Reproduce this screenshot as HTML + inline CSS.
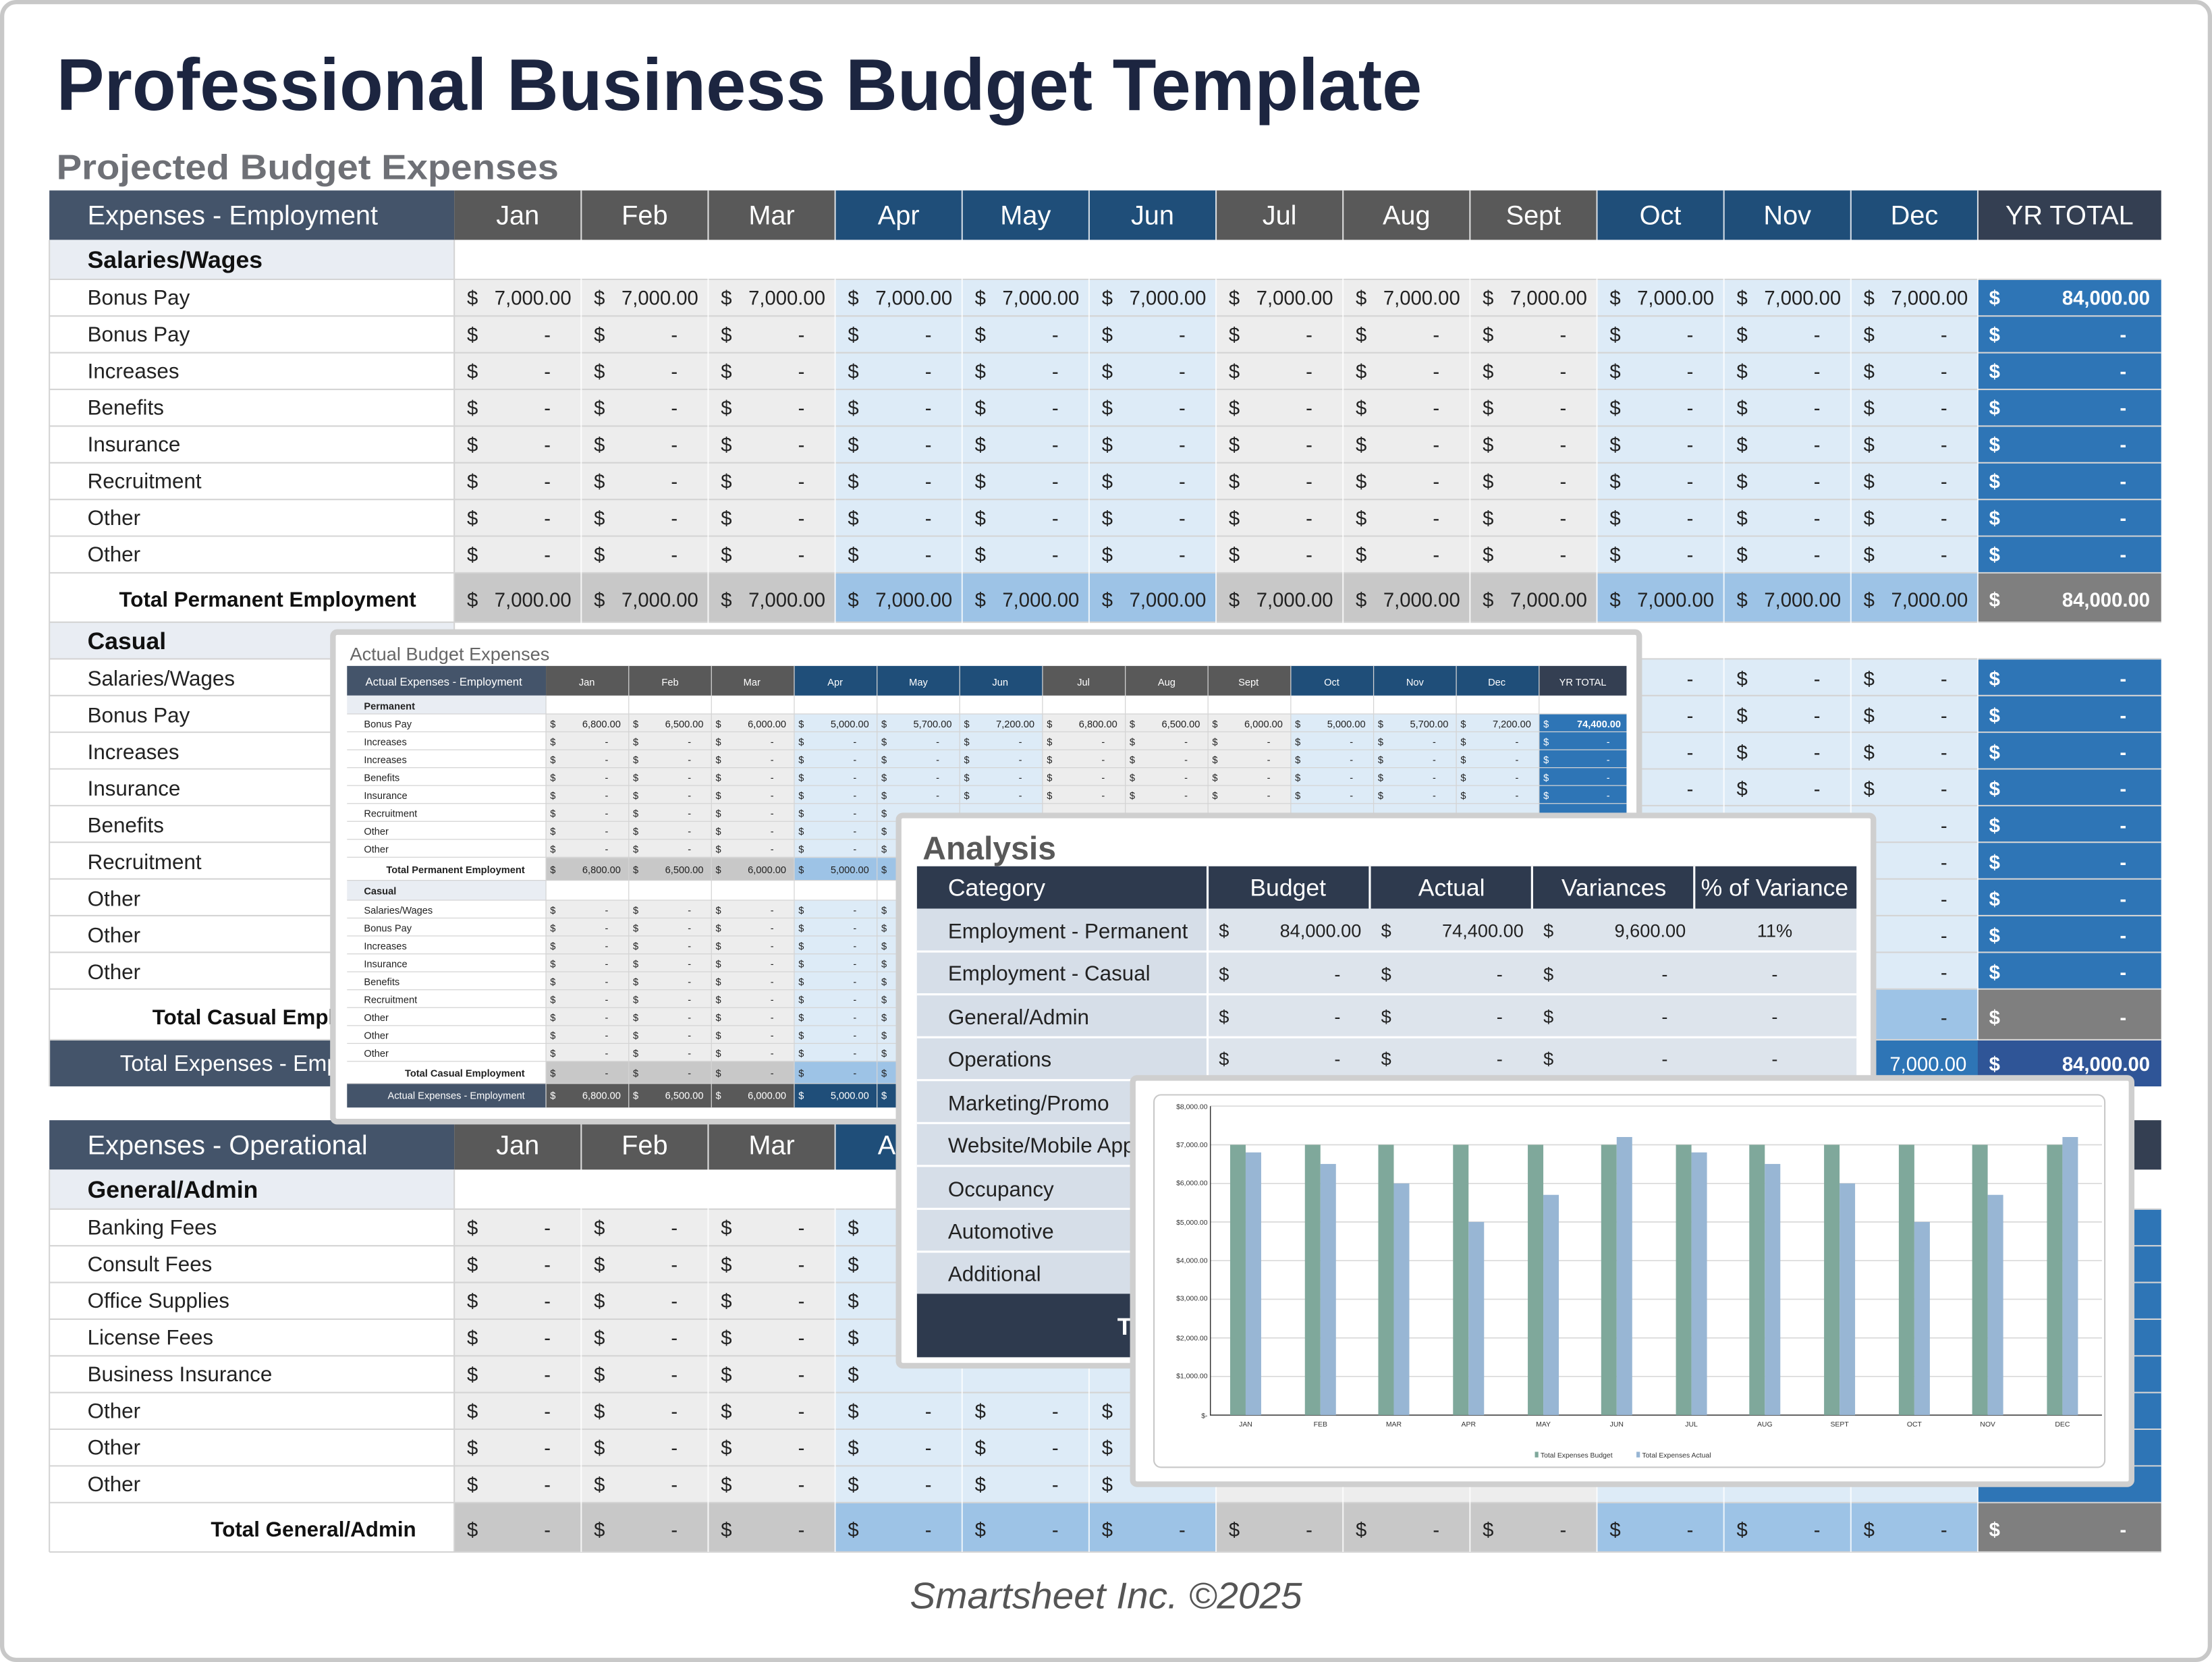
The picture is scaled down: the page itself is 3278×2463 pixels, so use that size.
<!DOCTYPE html>
<html><head><meta charset="utf-8"><style>
html,body{margin:0;padding:0;background:#fff}
svg{display:block}
text{font-family:"Liberation Sans",sans-serif}
.l{font-size:15px;fill:#222}
.b{font-size:17px;font-weight:bold;fill:#111}
.d{font-size:14px;fill:#222}
.w{font-size:14px;fill:#fff;font-weight:bold}
.h{font-size:19px;fill:#fff}
.s{font-size:7px;fill:#222}
.sw{font-size:7px;fill:#fff}
.a{font-size:15px;fill:#222}
.c{font-size:5px;fill:#333}
</style></head><body>
<svg width="3278" height="2463" viewBox="0 0 1568 1178" preserveAspectRatio="none" xmlns="http://www.w3.org/2000/svg">
<rect x="1.5" y="1.5" width="1565" height="1175" rx="10" fill="#fff" stroke="#c8c8c8" stroke-width="3"/>
<text x="40" y="78" textLength="968" lengthAdjust="spacingAndGlyphs" style="font-size:52px;font-weight:bold;fill:#1c2540">Professional Business Budget Template</text>
<text x="40" y="127" textLength="356" lengthAdjust="spacingAndGlyphs" style="font-size:25px;font-weight:bold;fill:#6e7076">Projected Budget Expenses</text>

<g>
<rect x="35" y="135" width="287" height="35" fill="#44546a"/>
<rect x="322" y="135" width="270" height="35" fill="#595959"/>
<rect x="592" y="135" width="270" height="35" fill="#1f4e79"/>
<rect x="862" y="135" width="270" height="35" fill="#595959"/>
<rect x="1132" y="135" width="270" height="35" fill="#1f4e79"/>
<rect x="1402" y="135" width="130" height="35" fill="#343f52"/>
<text class="h" x="62" y="159">Expenses - Employment</text>
<text class="h" text-anchor="middle" y="159"><tspan x="367">Jan</tspan><tspan x="457">Feb</tspan><tspan x="547">Mar</tspan><tspan x="637">Apr</tspan><tspan x="727">May</tspan><tspan x="817">Jun</tspan><tspan x="907">Jul</tspan><tspan x="997">Aug</tspan><tspan x="1087">Sept</tspan><tspan x="1177">Oct</tspan><tspan x="1267">Nov</tspan><tspan x="1357">Dec</tspan><tspan x="1467">YR TOTAL</tspan></text>
</g>
<rect x="35" y="170" width="287" height="28" fill="#e9edf3"/>
<rect x="322" y="198" width="270" height="208" fill="#ededed"/>
<rect x="592" y="198" width="270" height="208" fill="#ddebf7"/>
<rect x="862" y="198" width="270" height="208" fill="#ededed"/>
<rect x="1132" y="198" width="270" height="208" fill="#ddebf7"/>
<rect x="1402" y="198" width="130" height="208" fill="#2e75b6"/>
<rect x="322" y="406" width="270" height="35" fill="#c8c8c8"/>
<rect x="592" y="406" width="270" height="35" fill="#9dc3e6"/>
<rect x="862" y="406" width="270" height="35" fill="#c8c8c8"/>
<rect x="1132" y="406" width="270" height="35" fill="#9dc3e6"/>
<rect x="1402" y="406" width="130" height="35" fill="#7f7f7f"/>
<rect x="35" y="441" width="287" height="26" fill="#e9edf3"/>
<rect x="322" y="467" width="270" height="234" fill="#ededed"/>
<rect x="592" y="467" width="270" height="234" fill="#ddebf7"/>
<rect x="862" y="467" width="270" height="234" fill="#ededed"/>
<rect x="1132" y="467" width="270" height="234" fill="#ddebf7"/>
<rect x="1402" y="467" width="130" height="234" fill="#2e75b6"/>
<rect x="322" y="701" width="270" height="36" fill="#c8c8c8"/>
<rect x="592" y="701" width="270" height="36" fill="#9dc3e6"/>
<rect x="862" y="701" width="270" height="36" fill="#c8c8c8"/>
<rect x="1132" y="701" width="270" height="36" fill="#9dc3e6"/>
<rect x="1402" y="701" width="130" height="36" fill="#7f7f7f"/>
<rect x="35" y="737" width="1497" height="33" fill="#44546a"/>
<rect x="1132" y="737" width="270" height="33" fill="#2e75b6"/>
<rect x="1402" y="737" width="130" height="33" fill="#2f5597"/>
<rect x="35" y="794" width="287" height="35" fill="#44546a"/>
<rect x="322" y="794" width="270" height="35" fill="#595959"/>
<rect x="592" y="794" width="270" height="35" fill="#1f4e79"/>
<rect x="862" y="794" width="270" height="35" fill="#595959"/>
<rect x="1132" y="794" width="270" height="35" fill="#1f4e79"/>
<rect x="1402" y="794" width="130" height="35" fill="#343f52"/>
<text class="h" x="62" y="818">Expenses - Operational</text>
<text class="h" text-anchor="middle" y="818"><tspan x="367">Jan</tspan><tspan x="457">Feb</tspan><tspan x="547">Mar</tspan><tspan x="637">Apr</tspan></text>
<rect x="35" y="829" width="287" height="28" fill="#e9edf3"/>
<rect x="322" y="857" width="270" height="208" fill="#ededed"/>
<rect x="592" y="857" width="270" height="208" fill="#ddebf7"/>
<rect x="862" y="857" width="270" height="208" fill="#ededed"/>
<rect x="1132" y="857" width="270" height="208" fill="#ddebf7"/>
<rect x="1402" y="857" width="130" height="208" fill="#2e75b6"/>
<rect x="322" y="1065" width="270" height="35" fill="#c8c8c8"/>
<rect x="592" y="1065" width="270" height="35" fill="#9dc3e6"/>
<rect x="862" y="1065" width="270" height="35" fill="#c8c8c8"/>
<rect x="1132" y="1065" width="270" height="35" fill="#9dc3e6"/>
<rect x="1402" y="1065" width="130" height="35" fill="#7f7f7f"/>

<g stroke="#d4d4d4" stroke-width="1">
<path d="M35 198H1532M35 224H1532M35 250H1532M35 276H1532M35 302H1532M35 328H1532M35 354H1532M35 380H1532M35 406H1532M35 441H1532M35 467H1532M35 493H1532M35 519H1532M35 545H1532M35 571H1532M35 597H1532M35 623H1532M35 649H1532M35 675H1532M35 701H1532M35 737H1532"/>
<path d="M35 857H1532M35 883H1532M35 909H1532M35 935H1532M35 961H1532M35 987H1532M35 1013H1532M35 1039H1532M35 1065H1532M35 1100H1532"/>
<path d="M35 170V441M322 170V737M35 441V770M35 829V1100M322 829V1100"/>
</g>
<g stroke="#ffffff" stroke-width="1" opacity="0.8">
<path d="M412 135V737M502 135V737M592 135V737M682 135V737M772 135V737M862 135V737M952 135V737M1042 135V737M1132 135V737M1222 135V737M1312 135V737M1402 135V737"/>
<path d="M412 794V1100M502 794V1100M592 794V1100M682 794V1100M772 794V1100M862 794V1100M952 794V1100M1042 794V1100M1132 794V1100M1222 794V1100M1312 794V1100M1402 794V1100"/>
</g>

<text class="b" x="62" y="190">Salaries/Wages</text>
<text class="l" x="62" y="216">Bonus Pay</text>
<text class="l" x="62" y="242">Bonus Pay</text>
<text class="l" x="62" y="268">Increases</text>
<text class="l" x="62" y="294">Benefits</text>
<text class="l" x="62" y="320">Insurance</text>
<text class="l" x="62" y="346">Recruitment</text>
<text class="l" x="62" y="372">Other</text>
<text class="l" x="62" y="398">Other</text>
<text x="295" y="430" text-anchor="end" style="font-size:15px;font-weight:bold;fill:#111">Total Permanent Employment</text>

<text class="d" x="331 421 511 601 691 781 871 961 1051 1141 1231 1321" y="216">$$$$$$$$$$$$</text>
<text class="d" text-anchor="end" y="216"><tspan x="405">7,000.00</tspan><tspan x="495">7,000.00</tspan><tspan x="585">7,000.00</tspan><tspan x="675">7,000.00</tspan><tspan x="765">7,000.00</tspan><tspan x="855">7,000.00</tspan><tspan x="945">7,000.00</tspan><tspan x="1035">7,000.00</tspan><tspan x="1125">7,000.00</tspan><tspan x="1215">7,000.00</tspan><tspan x="1305">7,000.00</tspan><tspan x="1395">7,000.00</tspan></text>
<text class="w" x="1410" y="216">$</text><text class="w" x="1524" y="216" text-anchor="end">84,000.00</text>

<g>
<text class="d" x="331 421 511 601 691 781 871 961 1051 1141 1231 1321" y="242">$$$$$$$$$$$$</text>
<text class="d" text-anchor="middle" x="388 478 568 658 748 838 928 1018 1108 1198 1288 1378" y="242">------------</text>
<text class="d" x="331 421 511 601 691 781 871 961 1051 1141 1231 1321" y="268">$$$$$$$$$$$$</text>
<text class="d" text-anchor="middle" x="388 478 568 658 748 838 928 1018 1108 1198 1288 1378" y="268">------------</text>
<text class="d" x="331 421 511 601 691 781 871 961 1051 1141 1231 1321" y="294">$$$$$$$$$$$$</text>
<text class="d" text-anchor="middle" x="388 478 568 658 748 838 928 1018 1108 1198 1288 1378" y="294">------------</text>
<text class="d" x="331 421 511 601 691 781 871 961 1051 1141 1231 1321" y="320">$$$$$$$$$$$$</text>
<text class="d" text-anchor="middle" x="388 478 568 658 748 838 928 1018 1108 1198 1288 1378" y="320">------------</text>
<text class="d" x="331 421 511 601 691 781 871 961 1051 1141 1231 1321" y="346">$$$$$$$$$$$$</text>
<text class="d" text-anchor="middle" x="388 478 568 658 748 838 928 1018 1108 1198 1288 1378" y="346">------------</text>
<text class="d" x="331 421 511 601 691 781 871 961 1051 1141 1231 1321" y="372">$$$$$$$$$$$$</text>
<text class="d" text-anchor="middle" x="388 478 568 658 748 838 928 1018 1108 1198 1288 1378" y="372">------------</text>
<text class="d" x="331 421 511 601 691 781 871 961 1051 1141 1231 1321" y="398">$$$$$$$$$$$$</text>
<text class="d" text-anchor="middle" x="388 478 568 658 748 838 928 1018 1108 1198 1288 1378" y="398">------------</text>
</g>
<text class="w" x="1410 1410 1410 1410 1410 1410 1410" y="242 268 294 320 346 372 398">$$$$$$$</text>
<text class="w" text-anchor="middle" x="1505 1505 1505 1505 1505 1505 1505" y="242 268 294 320 346 372 398">-------</text>

<text class="d" x="331 421 511 601 691 781 871 961 1051 1141 1231 1321" y="430">$$$$$$$$$$$$</text>
<text class="d" text-anchor="end" y="430"><tspan x="405">7,000.00</tspan><tspan x="495">7,000.00</tspan><tspan x="585">7,000.00</tspan><tspan x="675">7,000.00</tspan><tspan x="765">7,000.00</tspan><tspan x="855">7,000.00</tspan><tspan x="945">7,000.00</tspan><tspan x="1035">7,000.00</tspan><tspan x="1125">7,000.00</tspan><tspan x="1215">7,000.00</tspan><tspan x="1305">7,000.00</tspan><tspan x="1395">7,000.00</tspan></text>
<text class="w" x="1410" y="430">$</text><text class="w" x="1524" y="430" text-anchor="end">84,000.00</text>

<text class="b" x="62" y="460">Casual</text>
<text class="l" x="62" y="486">Salaries/Wages</text>
<text class="l" x="62" y="512">Bonus Pay</text>
<text class="l" x="62" y="538">Increases</text>
<text class="l" x="62" y="564">Insurance</text>
<text class="l" x="62" y="590">Benefits</text>
<text class="l" x="62" y="616">Recruitment</text>
<text class="l" x="62" y="642">Other</text>
<text class="l" x="62" y="668">Other</text>
<text class="l" x="62" y="694">Other</text>
<text x="108" y="726" style="font-size:15px;font-weight:bold;fill:#111">Total Casual Employment</text>
<text x="85" y="759" style="font-size:16px;fill:#fff">Total Expenses - Employment</text>
<text class="d" x="1141 1231 1321 1141 1231 1321 1141 1231 1321 1141 1231 1321" y="486 486 486 512 512 512 538 538 538 564 564 564">$$$$$$$$$$$$</text>
<text class="d" text-anchor="middle" x="1198 1288 1378 1198 1288 1378 1198 1288 1378 1198 1288 1378 1378 1378 1378 1378 1378 1378" y="486 486 486 512 512 512 538 538 538 564 564 564 590 616 642 668 694 726">------------------</text>
<text class="w" x="1410 1410 1410 1410 1410 1410 1410 1410 1410 1410" y="486 512 538 564 590 616 642 668 694 726">$$$$$$$$$$</text>
<text class="w" text-anchor="middle" x="1505 1505 1505 1505 1505 1505 1505 1505 1505 1505" y="486 512 538 564 590 616 642 668 694 726">----------</text>
<text class="w" x="1394" y="759" text-anchor="end" style="font-weight:normal">7,000.00</text>
<text class="w" x="1410" y="759">$</text><text class="w" x="1524" y="759" text-anchor="end">84,000.00</text>

<text class="b" x="62" y="849">General/Admin</text>
<text class="l" x="62" y="875">Banking Fees</text>
<text class="l" x="62" y="901">Consult Fees</text>
<text class="l" x="62" y="927">Office Supplies</text>
<text class="l" x="62" y="953">License Fees</text>
<text class="l" x="62" y="979">Business Insurance</text>
<text class="l" x="62" y="1005">Other</text>
<text class="l" x="62" y="1031">Other</text>
<text class="l" x="62" y="1057">Other</text>
<text x="295" y="1089" text-anchor="end" style="font-size:15px;font-weight:bold;fill:#111">Total General/Admin</text>
<text class="d" x="331 421 511 601 331 421 511 601 331 421 511 601 331 421 511 601 331 421 511 601" y="875 875 875 875 901 901 901 901 927 927 927 927 953 953 953 953 979 979 979 979">$$$$$$$$$$$$$$$$$$$$</text>
<text class="d" text-anchor="middle" x="388 478 568 388 478 568 388 478 568 388 478 568 388 478 568" y="875 875 875 901 901 901 927 927 927 953 953 953 979 979 979">---------------</text>
<text class="d" x="331 421 511 601 691 781 331 421 511 601 691 781 331 421 511 601 691 781" y="1005 1005 1005 1005 1005 1005 1031 1031 1031 1031 1031 1031 1057 1057 1057 1057 1057 1057">$$$$$$$$$$$$$$$$$$</text>
<text class="d" text-anchor="middle" x="388 478 568 658 748 388 478 568 658 748 388 478 568 658 748" y="1005 1005 1005 1005 1005 1031 1031 1031 1031 1031 1057 1057 1057 1057 1057">---------------</text>
<text class="d" x="331 421 511 601 691 781 871 961 1051 1141 1231 1321" y="1089">$$$$$$$$$$$$</text>
<text class="d" text-anchor="middle" x="388 478 568 658 748 838 928 1018 1108 1198 1288 1378" y="1089">------------</text>
<text class="w" x="1410" y="1089">$</text><text class="w" x="1505" y="1089" text-anchor="middle">-</text>

<text x="784" y="1140" text-anchor="middle" textLength="278" lengthAdjust="spacingAndGlyphs" style="font-size:26px;font-style:italic;fill:#555">Smartsheet Inc. ©2025</text>

<rect x="236" y="448" width="926" height="347" fill="#fff" stroke="#cfcfcf" stroke-width="4" rx="3"/>
<text x="248" y="468" style="font-size:13px;fill:#666">Actual Budget Expenses</text>
<rect x="246" y="472" width="141" height="21" fill="#44546a"/>
<rect x="387" y="472" width="176" height="21" fill="#595959"/>
<rect x="563" y="472" width="176" height="21" fill="#1f4e79"/>
<rect x="739" y="472" width="176" height="21" fill="#595959"/>
<rect x="915" y="472" width="176" height="21" fill="#1f4e79"/>
<rect x="1091" y="472" width="62" height="21" fill="#343f52"/>
<text class="sw" x="259" y="486" style="font-size:8px">Actual Expenses - Employment</text>
<text class="sw" text-anchor="middle" y="486"><tspan x="416">Jan</tspan><tspan x="475">Feb</tspan><tspan x="533">Mar</tspan><tspan x="592">Apr</tspan><tspan x="651">May</tspan><tspan x="709">Jun</tspan><tspan x="768">Jul</tspan><tspan x="827">Aug</tspan><tspan x="885">Sept</tspan><tspan x="944">Oct</tspan><tspan x="1003">Nov</tspan><tspan x="1061">Dec</tspan><tspan x="1122">YR TOTAL</tspan></text>
<rect x="246" y="493" width="141" height="13" fill="#e9edf3"/>
<rect x="387" y="506" width="176" height="102" fill="#ededed"/>
<rect x="563" y="506" width="176" height="102" fill="#ddebf7"/>
<rect x="739" y="506" width="176" height="102" fill="#ededed"/>
<rect x="915" y="506" width="176" height="102" fill="#ddebf7"/>
<rect x="1091" y="506" width="62" height="102" fill="#2e75b6"/>
<rect x="387" y="608" width="176" height="16" fill="#c8c8c8"/>
<rect x="563" y="608" width="176" height="16" fill="#9dc3e6"/>
<rect x="246" y="624" width="141" height="14" fill="#e9edf3"/>
<rect x="387" y="638" width="176" height="114" fill="#ededed"/>
<rect x="563" y="638" width="176" height="114" fill="#ddebf7"/>
<rect x="387" y="752" width="176" height="16" fill="#c8c8c8"/>
<rect x="563" y="752" width="176" height="16" fill="#9dc3e6"/>
<rect x="246" y="768" width="141" height="17" fill="#44546a"/>
<rect x="387" y="768" width="176" height="17" fill="#595959"/>
<rect x="563" y="768" width="176" height="17" fill="#1f4e79"/>
<g stroke="#d4d4d4" stroke-width="0.6">
<path d="M246 506H1153M246 518.7H1153M246 531.4H1153M246 544.1H1153M246 556.8H1153M246 569.5H1153M246 582.2H1153M246 594.9H1153M246 607.6H1153M246 624H640M246 638H640M246 650.7H640M246 663.4H640M246 676.1H640M246 688.8H640M246 701.5H640M246 714.2H640M246 726.9H640M246 739.6H640M246 752.3H640M246 768H640"/>
<path d="M387 493V785M445.7 472V785M504.3 472V785M563 472V785M621.7 472V785M680.3 472V608M739 472V608M797.7 472V608M856.3 472V608M915 472V608M973.7 472V608M1032.3 472V608M1091 472V608"/>
</g>
<text class="s" x="258" y="503" style="font-weight:bold">Permanent</text>
<text class="s" x="258" y="515.5">Bonus Pay</text>
<text class="s" x="258" y="528.2">Increases</text>
<text class="s" x="258" y="540.9">Increases</text>
<text class="s" x="258" y="553.6">Benefits</text>
<text class="s" x="258" y="566.3">Insurance</text>
<text class="s" x="258" y="579">Recruitment</text>
<text class="s" x="258" y="591.7">Other</text>
<text class="s" x="258" y="604.4">Other</text>
<text class="s" x="372" y="619" text-anchor="end" style="font-weight:bold">Total Permanent Employment</text>
<text class="s" x="258" y="634" style="font-weight:bold">Casual</text>
<text class="s" x="258" y="647.5">Salaries/Wages</text>
<text class="s" x="258" y="660.2">Bonus Pay</text>
<text class="s" x="258" y="672.9">Increases</text>
<text class="s" x="258" y="685.6">Insurance</text>
<text class="s" x="258" y="698.3">Benefits</text>
<text class="s" x="258" y="711">Recruitment</text>
<text class="s" x="258" y="723.7">Other</text>
<text class="s" x="258" y="736.4">Other</text>
<text class="s" x="258" y="749.1">Other</text>
<text class="s" x="372" y="763" text-anchor="end" style="font-weight:bold">Total Casual Employment</text>
<text class="sw" x="372" y="779" text-anchor="end">Actual Expenses - Employment</text>
<text class="s" x="390 448.7 507.3 566 624.7 683.3 742 800.7 859.3 918 976.7 1035.3" y="515.5">$$$$$$$$$$$$</text>
<text class="s" text-anchor="end" y="515.5"><tspan x="440">6,800.00</tspan><tspan x="498.7">6,500.00</tspan><tspan x="557.3">6,000.00</tspan><tspan x="616">5,000.00</tspan><tspan x="674.7">5,700.00</tspan><tspan x="733.3">7,200.00</tspan><tspan x="792">6,800.00</tspan><tspan x="850.7">6,500.00</tspan><tspan x="909.3">6,000.00</tspan><tspan x="968">5,000.00</tspan><tspan x="1026.7">5,700.00</tspan><tspan x="1085.3">7,200.00</tspan></text>
<text class="sw" x="1094" y="515.5">$</text><text class="sw" x="1149" y="515.5" text-anchor="end" style="font-weight:bold">74,400.00</text>
<text class="s" x="390 448.7 507.3 566 624.7 683.3 742 800.7 859.3 918 976.7 1035.3 390 448.7 507.3 566 624.7 683.3 742 800.7 859.3 918 976.7 1035.3 390 448.7 507.3 566 624.7 683.3 742 800.7 859.3 918 976.7 1035.3 390 448.7 507.3 566 624.7 683.3 742 800.7 859.3 918 976.7 1035.3" y="528.2 528.2 528.2 528.2 528.2 528.2 528.2 528.2 528.2 528.2 528.2 528.2 540.9 540.9 540.9 540.9 540.9 540.9 540.9 540.9 540.9 540.9 540.9 540.9 553.6 553.6 553.6 553.6 553.6 553.6 553.6 553.6 553.6 553.6 553.6 553.6 566.3 566.3 566.3 566.3 566.3 566.3 566.3 566.3 566.3 566.3 566.3 566.3">$$$$$$$$$$$$$$$$$$$$$$$$$$$$$$$$$$$$$$$$$$$$$$$$</text>
<text class="s" text-anchor="middle" x="430 488.7 547.3 606 664.7 723.3 782 840.7 899.3 958 1016.7 1075.3 430 488.7 547.3 606 664.7 723.3 782 840.7 899.3 958 1016.7 1075.3 430 488.7 547.3 606 664.7 723.3 782 840.7 899.3 958 1016.7 1075.3 430 488.7 547.3 606 664.7 723.3 782 840.7 899.3 958 1016.7 1075.3" y="528.2 528.2 528.2 528.2 528.2 528.2 528.2 528.2 528.2 528.2 528.2 528.2 540.9 540.9 540.9 540.9 540.9 540.9 540.9 540.9 540.9 540.9 540.9 540.9 553.6 553.6 553.6 553.6 553.6 553.6 553.6 553.6 553.6 553.6 553.6 553.6 566.3 566.3 566.3 566.3 566.3 566.3 566.3 566.3 566.3 566.3 566.3 566.3">------------------------------------------------</text>
<text class="sw" x="1094 1094 1094 1094" y="528.2 540.9 553.6 566.3">$$$$</text>
<text class="sw" text-anchor="middle" x="1140 1140 1140 1140" y="528.2 540.9 553.6 566.3">----</text>
<text class="s" x="390 448.7 507.3 566 624.7 390 448.7 507.3 566 624.7 390 448.7 507.3 566 624.7" y="579 579 579 579 579 591.7 591.7 591.7 591.7 591.7 604.4 604.4 604.4 604.4 604.4">$$$$$$$$$$$$$$$</text>
<text class="s" text-anchor="middle" x="430 488.7 547.3 606 430 488.7 547.3 606 430 488.7 547.3 606" y="579 579 579 579 591.7 591.7 591.7 591.7 604.4 604.4 604.4 604.4">------------</text>
<text class="s" x="390 448.7 507.3 566 624.7" y="619">$$$$$</text>
<text class="s" text-anchor="end" y="619"><tspan x="440">6,800.00</tspan><tspan x="498.7">6,500.00</tspan><tspan x="557.3">6,000.00</tspan><tspan x="616">5,000.00</tspan></text>
<text class="s" x="390 448.7 507.3 566 624.7 390 448.7 507.3 566 624.7 390 448.7 507.3 566 624.7 390 448.7 507.3 566 624.7 390 448.7 507.3 566 624.7" y="647.5 647.5 647.5 647.5 647.5 660.2 660.2 660.2 660.2 660.2 672.9 672.9 672.9 672.9 672.9 685.6 685.6 685.6 685.6 685.6 698.3 698.3 698.3 698.3 698.3">$$$$$$$$$$$$$$$$$$$$$$$$$</text>
<text class="s" text-anchor="middle" x="430 488.7 547.3 606 430 488.7 547.3 606 430 488.7 547.3 606 430 488.7 547.3 606 430 488.7 547.3 606" y="647.5 647.5 647.5 647.5 660.2 660.2 660.2 660.2 672.9 672.9 672.9 672.9 685.6 685.6 685.6 685.6 698.3 698.3 698.3 698.3">--------------------</text>
<text class="s" x="390 448.7 507.3 566 624.7 390 448.7 507.3 566 624.7 390 448.7 507.3 566 624.7 390 448.7 507.3 566 624.7 390 448.7 507.3 566 624.7" y="711 711 711 711 711 723.7 723.7 723.7 723.7 723.7 736.4 736.4 736.4 736.4 736.4 749.1 749.1 749.1 749.1 749.1 763 763 763 763 763">$$$$$$$$$$$$$$$$$$$$$$$$$</text>
<text class="s" text-anchor="middle" x="430 488.7 547.3 606 430 488.7 547.3 606 430 488.7 547.3 606 430 488.7 547.3 606 430 488.7 547.3 606" y="711 711 711 711 723.7 723.7 723.7 723.7 736.4 736.4 736.4 736.4 749.1 749.1 749.1 749.1 763 763 763 763">--------------------</text>
<text class="sw" x="390 448.7 507.3 566 624.7" y="779">$$$$$</text>
<text class="sw" text-anchor="end" y="779"><tspan x="440">6,800.00</tspan><tspan x="498.7">6,500.00</tspan><tspan x="557.3">6,000.00</tspan><tspan x="616">5,000.00</tspan></text>

<rect x="637" y="578" width="691" height="390" fill="#fff" stroke="#cfcfcf" stroke-width="4" rx="3"/>
<text x="654" y="609" style="font-size:23px;font-weight:bold;fill:#595959">Analysis</text>
<rect x="650" y="614" width="666" height="30" fill="#2e3a4e"/>
<g stroke="#ffffff" stroke-width="1.5"><path d="M856 614V644M971 614V644M1086 614V644M1201 614V644"/></g>
<text class="h" style="font-size:17px" x="672" y="635">Category</text>
<text class="h" style="font-size:17px" text-anchor="middle" y="635"><tspan x="913">Budget</tspan><tspan x="1029">Actual</tspan><tspan x="1144">Variances</tspan><tspan x="1258">% of Variance</tspan></text>
<rect x="650" y="644" width="666" height="273" fill="#dde4ec"/>
<rect x="650" y="644" width="206" height="273" fill="#d6dee8"/>
<g stroke="#ffffff" stroke-width="1.5"><path d="M650 674.4H1316M650 704.8H1316M650 735.2H1316M650 765.6H1316M650 796H1316M650 826.4H1316M650 856.8H1316M650 887.2H1316M856 644V917"/></g>
<rect x="650" y="917" width="666" height="45" fill="#2e3a4e"/>
<text x="792" y="946" style="font-size:17px;font-weight:bold;fill:#fff">Total</text>
<text class="a" x="672" y="665">Employment - Permanent</text>
<text class="a" x="672" y="695">Employment - Casual</text>
<text class="a" x="672" y="726">General/Admin</text>
<text class="a" x="672" y="756">Operations</text>
<text class="a" x="672" y="787">Marketing/Promo</text>
<text class="a" x="672" y="817">Website/Mobile App</text>
<text class="a" x="672" y="848">Occupancy</text>
<text class="a" x="672" y="878">Automotive</text>
<text class="a" x="672" y="908">Additional</text>
<text class="d" style="font-size:13px" x="864 979 1094 864 979 1094 864 979 1094 864 979 1094" y="664 664 664 695 695 695 725 725 725 755 755 755">$$$$$$$$$$$$</text>
<text class="d" style="font-size:13px" text-anchor="end" y="664"><tspan x="965">84,000.00</tspan><tspan x="1080">74,400.00</tspan><tspan x="1195">9,600.00</tspan></text>
<text class="d" style="font-size:13px" x="1258" y="664" text-anchor="middle">11%</text>
<text class="d" style="font-size:13px" text-anchor="middle" x="948 1063 1180 1258 948 1063 1180 1258 948 1063 1180 1258" y="695 695 695 695 725 725 725 725 755 755 755 755">------------</text>

<rect x="803" y="764" width="708" height="288" fill="#fff" stroke="#cfcfcf" stroke-width="4" rx="3"/>
<rect x="818" y="776" width="674" height="264" rx="5" fill="#fff" stroke="#c8c8c8" stroke-width="1"/>
<g stroke="#d9d9d9" stroke-width="0.8">
<path d="M858 784H1490M858 811.4H1490M858 838.8H1490M858 866.1H1490M858 893.5H1490M858 920.9H1490M858 948.3H1490M858 975.6H1490"/>
</g>
<path d="M858 784V1003H1490" stroke="#333" stroke-width="0.7" fill="none"/>
<g text-anchor="end">
<text class="c" x="856" y="786">$8,000.00</text>
<text class="c" x="856" y="813">$7,000.00</text>
<text class="c" x="856" y="840">$6,000.00</text>
<text class="c" x="856" y="868">$5,000.00</text>
<text class="c" x="856" y="895">$4,000.00</text>
<text class="c" x="856" y="922">$3,000.00</text>
<text class="c" x="856" y="950">$2,000.00</text>
<text class="c" x="856" y="977">$1,000.00</text>
<text class="c" x="856" y="1005">$-</text>
</g>
<g fill="#7fa89b">
<rect x="872" y="811.4" width="11" height="191.6"/>
<rect x="925" y="811.4" width="11" height="191.6"/>
<rect x="977" y="811.4" width="11" height="191.6"/>
<rect x="1030" y="811.4" width="11" height="191.6"/>
<rect x="1083" y="811.4" width="11" height="191.6"/>
<rect x="1135" y="811.4" width="11" height="191.6"/>
<rect x="1188" y="811.4" width="11" height="191.6"/>
<rect x="1240" y="811.4" width="11" height="191.6"/>
<rect x="1293" y="811.4" width="11" height="191.6"/>
<rect x="1346" y="811.4" width="11" height="191.6"/>
<rect x="1398" y="811.4" width="11" height="191.6"/>
<rect x="1451" y="811.4" width="11" height="191.6"/>
</g>
<g fill="#98b6d4">
<rect x="883" y="816.8" width="11" height="186.2"/>
<rect x="936" y="825" width="11" height="178"/>
<rect x="988" y="838.8" width="11" height="164.2"/>
<rect x="1041" y="866.1" width="11" height="136.9"/>
<rect x="1094" y="846.9" width="11" height="156.1"/>
<rect x="1146" y="805.9" width="11" height="197.1"/>
<rect x="1199" y="816.8" width="11" height="186.2"/>
<rect x="1251" y="825" width="11" height="178"/>
<rect x="1304" y="838.8" width="11" height="164.2"/>
<rect x="1357" y="866.1" width="11" height="136.9"/>
<rect x="1409" y="846.9" width="11" height="156.1"/>
<rect x="1462" y="805.9" width="11" height="197.1"/>
</g>
<text class="c" text-anchor="middle" y="1011"><tspan x="883">JAN</tspan><tspan x="936">FEB</tspan><tspan x="988">MAR</tspan><tspan x="1041">APR</tspan><tspan x="1094">MAY</tspan><tspan x="1146">JUN</tspan><tspan x="1199">JUL</tspan><tspan x="1251">AUG</tspan><tspan x="1304">SEPT</tspan><tspan x="1357">OCT</tspan><tspan x="1409">NOV</tspan><tspan x="1462">DEC</tspan></text>
<rect x="1088" y="1029" width="2.5" height="4" fill="#7fa89b"/>
<text class="c" x="1092" y="1033">Total Expenses Budget</text>
<rect x="1160" y="1029" width="2.5" height="4" fill="#98b6d4"/>
<text class="c" x="1164" y="1033">Total Expenses Actual</text>
</svg>
</body></html>
